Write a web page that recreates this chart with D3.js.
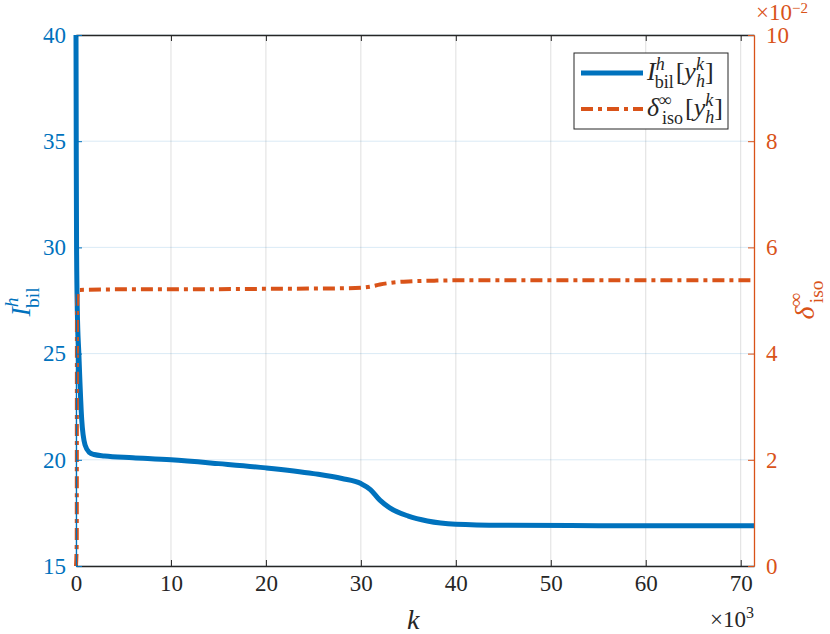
<!DOCTYPE html>
<html>
<head>
<meta charset="UTF-8">
<script src="https://d3js.org/d3.v7.min.js"></script>
<style>
  body { margin: 0; background: #fff; }
</style>
</head>
<body>
<svg id="chart" width="830" height="634"></svg>
<script>
// iteration k (in thousands)
const kBil = [0, 0.03, 0.06, 0.14, 0.3, 0.6, 0.95, 1.4, 1.9, 3, 6, 10, 15, 20, 25, 28, 30, 31, 32, 33, 35, 37, 40, 45, 55, 71.4];
const bilValues = [40, 34, 30, 27, 25, 21.9, 20.7, 20.35, 20.25, 20.18, 20.1, 20.0, 19.82, 19.62, 19.35, 19.12, 18.88, 18.6, 18.1, 17.75, 17.35, 17.12, 16.97, 16.92, 16.9, 16.9];

const kIso = [0, 0.08, 0.1, 0.2, 0.4, 5, 10, 20, 28, 30, 31, 32, 33, 35, 38, 40, 50, 71.4];
const isoValues = [0, 0.5, 4.8, 5.15, 5.2, 5.21, 5.21, 5.22, 5.23, 5.24, 5.26, 5.3, 5.33, 5.36, 5.375, 5.38, 5.38, 5.38]; // x 10^-2

const xTicks = [0, 10, 20, 30, 40, 50, 60, 70];
const leftTicks = [15, 20, 25, 30, 35, 40];
const rightTicks = [0, 2, 4, 6, 8, 10];

const blue = '#0072BD', orange = '#D95319', dark = '#262626';
const serif = 'Liberation Serif';

const svg = d3.select('#chart');
const m = {left: 76, top: 35, right: 754, bottom: 566};

const x = d3.scaleLinear().domain([0, 71.4]).range([m.left, m.right]);
const yL = d3.scaleLinear().domain([15, 40]).range([m.bottom, m.top]);
const yR = d3.scaleLinear().domain([0, 10]).range([m.bottom, m.top]);

// grid
svg.append('g').selectAll('line').data(xTicks).join('line')
  .attr('x1', d => x(d)).attr('x2', d => x(d))
  .attr('y1', m.top).attr('y2', m.bottom)
  .attr('stroke', dark).attr('stroke-opacity', 0.15);
svg.append('g').selectAll('line').data(leftTicks).join('line')
  .attr('x1', m.left).attr('x2', m.right)
  .attr('y1', d => yL(d)).attr('y2', d => yL(d))
  .attr('stroke', blue).attr('stroke-opacity', 0.15);

// lines
svg.append('path')
  .datum(kBil.map((k, i) => [k, bilValues[i]]))
  .attr('d', d3.line().x(d => x(d[0])).y(d => yL(d[1])).curve(d3.curveMonotoneX))
  .attr('fill', 'none').attr('stroke', blue).attr('stroke-width', 5);

svg.append('path')
  .datum(kIso.map((k, i) => [k, isoValues[i]]))
  .attr('d', d3.line().x(d => x(d[0])).y(d => yR(d[1])).curve(d3.curveMonotoneX))
  .attr('fill', 'none').attr('stroke', orange).attr('stroke-width', 4)
  .attr('stroke-dasharray', '12,5,4,5');

// axes
const fs = 23;
const xAxis = svg.append('g').attr('transform', `translate(0,${m.bottom})`)
  .call(d3.axisBottom(x).tickValues(xTicks).tickSizeInner(-6).tickSizeOuter(0).tickPadding(9));
const xTop = svg.append('g').attr('transform', `translate(0,${m.top})`)
  .call(d3.axisTop(x).tickValues(xTicks).tickSizeInner(-6).tickSizeOuter(0).tickFormat(''));
const lAxis = svg.append('g').attr('transform', `translate(${m.left},0)`)
  .call(d3.axisLeft(yL).tickValues(leftTicks).tickSizeInner(-6).tickSizeOuter(0).tickPadding(10));
const rAxis = svg.append('g').attr('transform', `translate(${m.right},0)`)
  .call(d3.axisRight(yR).tickValues(rightTicks).tickSizeInner(-6).tickSizeOuter(0).tickPadding(12));

[[xAxis, dark], [xTop, dark], [lAxis, blue], [rAxis, orange]].forEach(([g, c]) => {
  g.attr('font-family', serif).attr('font-size', fs);
  g.selectAll('path, line').attr('stroke', c);
  g.selectAll('text').attr('fill', c);
});
svg.selectAll('.domain').attr('stroke-width', 1.3);

// exponent labels
const xe = svg.append('text').attr('x', 754).attr('y', 627).attr('text-anchor', 'end')
  .attr('fill', dark).attr('font-size', fs);
xe.append('tspan').text('×10');
xe.append('tspan').attr('dy', -9).attr('font-size', 16).text('3');

const ye = svg.append('text').attr('x', 756).attr('y', 20).attr('fill', orange).attr('font-size', fs);
ye.append('tspan').text('×10');
ye.append('tspan').attr('dy', -7).attr('font-size', 15).text('−2');

// axis titles
svg.append('text').attr('x', x(35.5)).attr('y', 629).attr('text-anchor', 'middle')
  .attr('fill', dark).attr('font-size', 28).attr('font-style', 'italic').text('k');

function mathLabel(g, sym, sup, sub, size) {
  const t = g.append('text').attr('font-size', size);
  t.append('tspan').attr('font-style', 'italic').text(sym);
  t.append('tspan').attr('dy', -size * 0.42).attr('font-size', size * 0.7)
    .attr('font-style', 'italic').text(sup);
  t.append('tspan').attr('dx', -size * 0.38).attr('dy', size * 0.75)
    .attr('font-size', size * 0.7).text(sub);
  return t;
}

const ll = svg.append('g').attr('transform', 'translate(30,302) rotate(-90)').attr('fill', blue);
mathLabel(ll, 'I', 'h', 'bil', 28).attr('text-anchor', 'middle');

const rl = svg.append('g').attr('transform', 'translate(814,300) rotate(-90)').attr('fill', orange);
mathLabel(rl, 'δ', '∞', 'iso', 28).attr('text-anchor', 'middle');

// legend
const lg = svg.append('g').attr('transform', 'translate(574,53)');
lg.append('rect').attr('width', 154).attr('height', 76)
  .attr('fill', '#fff').attr('stroke', dark).attr('stroke-width', 1);
const entries = [
  {sym: 'I', sup: 'h', sub: 'bil', color: blue, dash: null, w: 5},
  {sym: 'δ', sup: '∞', sub: 'iso', color: orange, dash: '12,5,4,5', w: 4}
];
entries.forEach((e, i) => {
  const yy = 20 + i * 36;
  lg.append('line').attr('x1', 7).attr('x2', 69).attr('y1', yy).attr('y2', yy)
    .attr('stroke', e.color).attr('stroke-width', e.w)
    .attr('stroke-dasharray', e.dash);
  const t = lg.append('text').attr('x', 73).attr('y', yy + 7).attr('fill', dark).attr('font-size', 26);
  t.append('tspan').attr('font-style', 'italic').text(e.sym);
  t.append('tspan').attr('dy', -10).attr('font-size', 18).attr('font-style', 'italic').text(e.sup);
  t.append('tspan').attr('dx', -10).attr('dy', 18).attr('font-size', 18).text(e.sub);
  t.append('tspan').attr('dx', 2).attr('dy', -8).text('[');
  t.append('tspan').attr('font-style', 'italic').text('y');
  t.append('tspan').attr('dy', -10).attr('font-size', 18).attr('font-style', 'italic').text('k');
  t.append('tspan').attr('dx', -8).attr('dy', 17).attr('font-size', 18).attr('font-style', 'italic').text('h');
  t.append('tspan').attr('dy', -7).text(']');
});

// same way the test page set its font
svg.selectAll('text').style('font-family', '"Liberation Serif"');
</script>
</body>
</html>
